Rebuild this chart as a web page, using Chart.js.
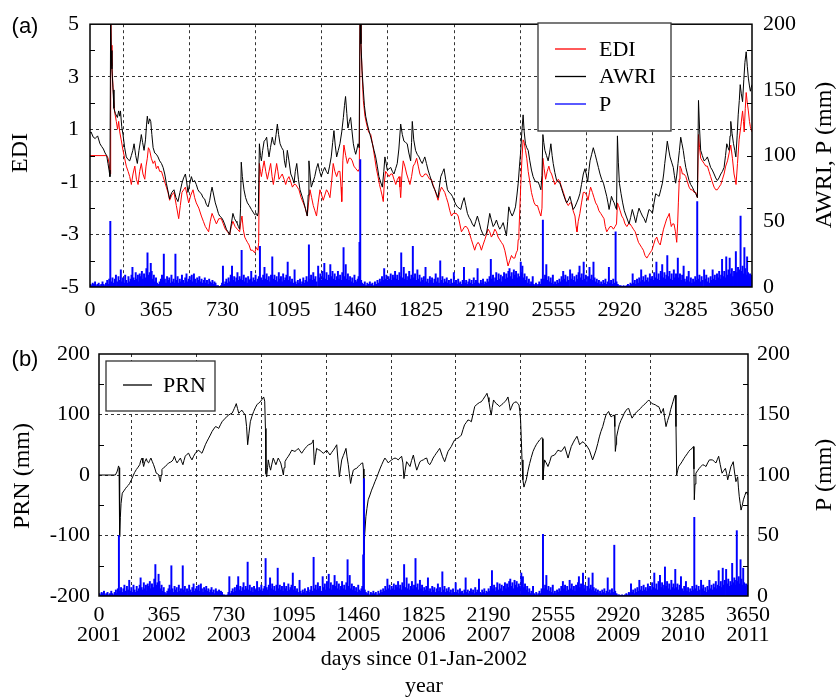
<!DOCTYPE html>
<html>
<head>
<meta charset="utf-8">
<script src="https://cdn.jsdelivr.net/npm/chart.js@4.4.0/dist/chart.umd.min.js"></script>
<style>
body { margin: 0; background: #fff; }
#wrap { position: relative; width: 836px; height: 697px; }
canvas { position: absolute; left: 0; }
#chartA { top: 0; }
#chartB { top: 330px; }
</style>
</head>
<body>
<div id="wrap">
  <canvas id="chartA" width="836" height="330"></canvas>
  <canvas id="chartB" width="836" height="367"></canvas>
</div>
<script>
// tick positions and labels
var dayTicks = [0, 365, 730, 1095, 1460, 1825, 2190, 2555, 2920, 3285, 3650]
var yearLabels = ['2001', '2002', '2003', '2004', '2005', '2006', '2007', '2008', '2009', '2010', '2011']
var ediTicks = [-5, -3, -1, 1, 3, 5]
var ediMinorTicks = [-4, -2, 0, 2, 4]
var awriTicks = [0, 50, 100, 150, 200]
var prnTicks = [-200, -100, 0, 100, 200]
var prnMinorTicks = [-150, -50, 50, 150]
var precipTicks = [0, 50, 100, 150, 200]

// [day, EDI]
var ediData = [[0,0],[92,0],[100,-0.1],[107,-0.4],[111,-0.7],[114,6],[117,4.2],[121,3.4],[127,2.6],[135,1.7],[145,1.3],[152,1.0],[158,1.3],[164,0.9],[172,0.6],[182,0.2],[191,-0.1],[200,-0.4],[210,-0.6],[219,-0.8],[228,-1.1],[237,-0.7],[247,-0.4],[256,-0.9],[265,-1.1],[274,-0.6],[283,-0.3],[292,-0.7],[302,-0.9],[309,-0.4],[316,-0.1],[322,0.3],[329,0.2],[338,-0.1],[348,-0.3],[357,-0.2],[366,-0.5],[375,-0.4],[384,-0.6],[394,-0.6],[403,-0.8],[412,-1.0],[421,-1.2],[430,-1.4],[439,-1.7],[451,-1.5],[463,-1.4],[476,-1.9],[489,-2.4],[498,-1.9],[507,-1.4],[516,-1.3],[526,-1.2],[535,-1.5],[544,-1.8],[556,-1.5],[568,-1.3],[577,-1.6],[586,-1.8],[600,-2.0],[614,-2.3],[625,-2.5],[636,-2.7],[645,-2.8],[654,-2.9],[663,-2.5],[673,-2.2],[685,-2.4],[697,-2.6],[710,-2.4],[724,-2.4],[735,-2.6],[746,-2.8],[758,-2.9],[770,-3.0],[779,-2.7],[788,-2.5],[800,-2.7],[812,-2.8],[825,-2.9],[830,-2.6],[838,-2.3],[845,-2.8],[853,-3.1],[860,-3.2],[868,-3.3],[877,-3.4],[886,-3.6],[897,-3.6],[908,-3.7],[917,-3.5],[926,-3.6],[930,-3.3],[934,-0.3],[940,-0.6],[945,-0.8],[952,-0.5],[960,-0.2],[969,-0.6],[978,-0.9],[987,-0.6],[996,-0.3],[1004,-0.8],[1011,-1.1],[1020,-0.7],[1029,-0.3],[1036,-0.6],[1042,-0.9],[1051,-0.8],[1060,-0.7],[1070,-0.9],[1079,-1.1],[1088,-0.9],[1097,-0.8],[1107,-1.0],[1116,-1.2],[1125,-1.1],[1134,-1.1],[1143,-1.2],[1152,-1.3],[1164,-1.6],[1176,-1.8],[1187,-2.0],[1198,-2.3],[1205,-1.8],[1213,-1.3],[1222,-1.6],[1231,-1.9],[1240,-2.1],[1249,-2.3],[1258,-1.8],[1268,-1.3],[1277,-1.5],[1286,-1.7],[1295,-1.5],[1304,-1.3],[1313,-1.4],[1323,-1.6],[1332,-1.0],[1341,-0.3],[1350,-0.6],[1360,-0.8],[1369,-0.6],[1378,-0.6],[1384,-1.2],[1388,-1.75],[1394,-0.2],[1400,0.4],[1410,0.0],[1419,-0.3],[1428,-0.1],[1437,-0.1],[1446,-0.2],[1455,-0.4],[1466,-0.5],[1478,-0.6],[1485,-0.5],[1489,6],[1494,4.3],[1500,3.2],[1507,2.1],[1516,1.5],[1525,1.2],[1536,0.9],[1548,0.8],[1559,0.4],[1570,-0.1],[1579,-0.5],[1588,-0.8],[1596,-1.1],[1603,-1.3],[1610,-1.5],[1617,-1.75],[1623,-1.0],[1630,-0.6],[1640,-0.7],[1649,-0.8],[1658,-0.7],[1667,-0.7],[1676,-0.9],[1686,-1.1],[1695,-0.9],[1704,-0.8],[1709,-1.2],[1713,-1.6],[1720,-0.7],[1727,-0.2],[1736,-0.4],[1746,-0.7],[1755,-0.9],[1764,-1.1],[1773,-0.8],[1782,-0.4],[1791,-0.3],[1801,-0.1],[1810,-0.4],[1819,-0.7],[1827,-0.8],[1836,-0.8],[1846,-0.7],[1855,-0.7],[1864,-0.8],[1873,-0.9],[1882,-0.9],[1891,-1.1],[1901,-1.3],[1910,-1.5],[1919,-1.7],[1928,-1.4],[1938,-1.2],[1947,-1.3],[1956,-1.4],[1965,-1.6],[1974,-1.8],[1984,-2.1],[1993,-2.3],[2002,-2.2],[2011,-2.2],[2020,-2.2],[2030,-2.3],[2039,-2.6],[2048,-2.9],[2057,-2.8],[2066,-2.7],[2075,-2.7],[2085,-2.8],[2094,-3.0],[2103,-3.2],[2112,-3.4],[2121,-3.6],[2130,-3.4],[2140,-3.3],[2149,-3.4],[2158,-3.6],[2167,-3.4],[2177,-3.2],[2186,-3.0],[2195,-2.8],[2204,-2.9],[2213,-3.1],[2222,-3.0],[2232,-2.8],[2241,-2.9],[2250,-3.1],[2259,-3.2],[2268,-3.3],[2278,-3.4],[2287,-3.6],[2296,-3.9],[2305,-4.2],[2314,-4.0],[2324,-3.8],[2333,-3.9],[2342,-3.9],[2350,-3.7],[2357,-3.6],[2361,-3.2],[2365,-2.9],[2370,-2.0],[2375,-1.1],[2381,-0.2],[2388,0.6],[2394,0.5],[2401,0.2],[2408,-0.1],[2416,-0.6],[2425,-1.0],[2434,-1.4],[2441,-1.6],[2449,-1.8],[2458,-1.9],[2467,-1.9],[2476,-2.1],[2486,-2.3],[2492,-2.0],[2497,-0.1],[2504,-0.5],[2512,-0.9],[2521,-0.6],[2530,-0.4],[2537,-0.6],[2545,-0.7],[2554,-0.9],[2563,-1.1],[2572,-1.0],[2582,-0.9],[2591,-1.0],[2600,-1.2],[2610,-1.4],[2619,-1.6],[2628,-1.8],[2637,-1.9],[2646,-1.8],[2655,-1.8],[2664,-2.1],[2674,-2.3],[2680,-2.7],[2685,-2.9],[2692,-2.5],[2701,-2.2],[2710,-1.8],[2720,-1.4],[2729,-1.4],[2738,-1.5],[2746,-1.7],[2754,-1.4],[2760,-1.2],[2770,-1.4],[2779,-1.6],[2788,-1.8],[2797,-1.9],[2806,-2.1],[2816,-2.2],[2825,-2.3],[2834,-2.4],[2841,-2.7],[2849,-2.9],[2858,-2.8],[2867,-2.7],[2876,-2.7],[2886,-2.8],[2895,-2.7],[2903,-2.6],[2908,-1.8],[2914,-1.9],[2923,-2.1],[2932,-2.3],[2941,-2.4],[2950,-2.6],[2960,-2.7],[2969,-2.6],[2978,-2.6],[2987,-2.7],[2996,-2.8],[3006,-2.9],[3015,-3.1],[3024,-3.3],[3033,-3.4],[3042,-3.5],[3051,-3.6],[3060,-3.8],[3070,-3.9],[3079,-3.8],[3088,-3.7],[3098,-3.6],[3107,-3.4],[3116,-3.2],[3125,-3.1],[3134,-3.3],[3144,-3.4],[3153,-3.1],[3162,-2.8],[3171,-2.6],[3180,-2.4],[3188,-2.3],[3194,-2.2],[3200,-2.5],[3205,-2.7],[3212,-2.6],[3220,-2.6],[3228,-2.9],[3235,-3.3],[3240,-2.6],[3244,-1.8],[3249,-0.9],[3253,-0.4],[3260,-0.5],[3266,-0.7],[3275,-0.7],[3285,-0.8],[3294,-1.0],[3303,-1.2],[3312,-1.3],[3321,-1.3],[3331,-1.4],[3340,-1.4],[3349,-1.6],[3355,0.8],[3361,0.3],[3367,-0.1],[3376,-0.2],[3386,-0.3],[3395,-0.4],[3404,-0.4],[3413,-0.6],[3422,-0.8],[3431,-1.0],[3441,-1.2],[3450,-1.3],[3459,-1.3],[3468,-1.2],[3478,-1.1],[3487,-0.9],[3496,-0.7],[3505,-0.4],[3515,-0.2],[3524,0.1],[3533,0.4],[3542,-0.1],[3551,-0.7],[3557,-0.9],[3562,-1.1],[3570,-0.3],[3579,0.6],[3588,1.1],[3598,1.7],[3603,1.3],[3607,0.9],[3613,1.8],[3618,2.4],[3624,2.0],[3630,1.7],[3636,1.3],[3641,1.1],[3650,0.9]]

// [day, AWRI mm]
var awriData = [[0,117],[6,118],[18,114],[29,113],[35,114],[42,115],[55,109],[64,107],[74,105],[83,102],[92,100],[99,94],[105,89],[110,84],[114,210],[117,180],[121,166],[127,150],[132,136],[140,132],[151,129],[158,134],[164,130],[168,134],[175,122],[182,116],[191,106],[200,99],[210,97],[219,96],[228,100],[236,104],[243,109],[252,100],[261,94],[270,104],[279,112],[283,116],[290,110],[298,104],[306,112],[312,124],[316,130],[322,124],[329,128],[335,126],[341,116],[348,106],[357,102],[366,101],[375,99],[384,96],[394,94],[403,91],[412,86],[421,79],[430,73],[439,67],[445,70],[451,72],[463,74],[474,68],[485,65],[496,72],[507,79],[516,83],[526,86],[533,80],[540,72],[549,78],[559,84],[568,80],[577,81],[586,78],[595,74],[605,72],[614,71],[623,68],[632,67],[641,63],[651,61],[660,66],[667,72],[673,76],[682,70],[691,64],[700,60],[708,56],[715,54],[724,53],[733,51],[742,48],[752,44],[761,42],[770,40],[779,48],[788,56],[797,52],[805,50],[810,49],[818,46],[825,44],[830,60],[834,95],[840,84],[849,74],[858,68],[868,64],[878,62],[890,59],[899,57],[908,55],[917,56],[923,54],[928,57],[934,109],[940,100],[945,96],[952,104],[960,111],[967,112],[974,114],[980,106],[987,99],[995,106],[1005,114],[1011,110],[1018,108],[1026,116],[1033,124],[1040,116],[1048,109],[1057,106],[1066,104],[1072,96],[1079,91],[1084,98],[1088,104],[1097,96],[1107,86],[1116,83],[1125,79],[1132,88],[1140,94],[1149,82],[1158,74],[1167,70],[1176,66],[1187,60],[1198,54],[1203,70],[1207,96],[1213,86],[1220,76],[1230,80],[1239,84],[1248,90],[1257,94],[1266,88],[1275,84],[1284,88],[1294,91],[1303,88],[1312,86],[1321,92],[1330,99],[1338,110],[1345,119],[1352,108],[1360,99],[1369,104],[1378,109],[1388,118],[1397,129],[1403,138],[1409,145],[1416,132],[1422,121],[1430,126],[1437,129],[1445,118],[1452,109],[1459,104],[1465,101],[1472,105],[1478,109],[1484,106],[1489,215],[1494,185],[1500,165],[1507,150],[1513,138],[1520,130],[1529,124],[1538,119],[1548,114],[1557,109],[1566,104],[1575,99],[1584,92],[1593,84],[1602,80],[1612,76],[1620,88],[1626,99],[1633,94],[1639,89],[1649,90],[1658,91],[1667,88],[1676,86],[1685,90],[1694,94],[1703,105],[1713,124],[1722,116],[1731,111],[1740,110],[1749,109],[1758,102],[1768,96],[1773,110],[1777,126],[1785,112],[1795,104],[1804,101],[1814,99],[1823,96],[1832,94],[1840,97],[1846,99],[1855,94],[1864,89],[1873,85],[1882,81],[1891,77],[1901,74],[1910,71],[1919,68],[1926,76],[1934,84],[1943,87],[1952,90],[1961,82],[1971,74],[1980,72],[1989,71],[1998,69],[2007,66],[2016,63],[2026,61],[2035,60],[2044,59],[2053,64],[2063,68],[2072,62],[2081,56],[2090,53],[2099,51],[2108,48],[2118,46],[2127,50],[2136,54],[2146,49],[2155,44],[2164,41],[2173,39],[2180,40],[2186,41],[2195,48],[2204,56],[2213,51],[2223,46],[2232,48],[2241,51],[2250,47],[2259,44],[2268,46],[2278,49],[2287,44],[2296,39],[2303,50],[2309,61],[2318,57],[2328,54],[2337,57],[2346,61],[2354,70],[2361,79],[2368,92],[2375,104],[2381,118],[2388,131],[2394,118],[2401,109],[2408,106],[2416,104],[2425,96],[2434,89],[2443,84],[2452,81],[2461,80],[2471,80],[2479,77],[2486,74],[2492,85],[2497,116],[2502,110],[2508,104],[2517,100],[2526,96],[2534,102],[2541,109],[2548,100],[2554,94],[2563,87],[2573,81],[2582,80],[2591,79],[2600,75],[2609,71],[2619,67],[2628,64],[2637,66],[2646,69],[2655,64],[2664,59],[2674,61],[2683,64],[2692,67],[2701,71],[2710,78],[2720,86],[2729,90],[2736,86],[2744,80],[2750,88],[2757,96],[2766,101],[2775,106],[2785,101],[2794,96],[2803,91],[2812,86],[2821,82],[2831,79],[2840,74],[2849,69],[2856,64],[2862,59],[2869,64],[2875,69],[2883,66],[2890,64],[2897,61],[2903,59],[2908,115],[2913,95],[2919,79],[2928,71],[2937,64],[2946,58],[2956,54],[2964,51],[2972,48],[2981,53],[2990,59],[3000,54],[3009,49],[3018,55],[3027,60],[3036,57],[3046,54],[3055,52],[3064,49],[3073,54],[3082,59],[3092,58],[3101,56],[3110,64],[3119,71],[3128,70],[3138,69],[3147,74],[3156,79],[3163,86],[3169,94],[3176,102],[3183,111],[3190,105],[3198,99],[3207,95],[3216,91],[3222,85],[3229,79],[3236,86],[3242,94],[3250,104],[3257,114],[3264,109],[3271,104],[3278,97],[3285,91],[3294,86],[3303,81],[3312,78],[3321,76],[3331,73],[3340,71],[3349,68],[3355,142],[3361,120],[3367,104],[3376,100],[3386,96],[3395,97],[3404,99],[3413,95],[3422,91],[3431,89],[3441,86],[3450,83],[3459,81],[3468,83],[3478,86],[3487,88],[3496,91],[3504,100],[3511,109],[3518,106],[3524,104],[3529,115],[3533,126],[3540,117],[3548,109],[3555,104],[3561,99],[3568,115],[3574,131],[3580,142],[3585,154],[3591,147],[3598,141],[3605,158],[3611,171],[3618,179],[3624,168],[3630,159],[3636,153],[3641,149],[3646,152],[3650,154]]

// [day, PRN mm]
var prnData = [[0,0],[92,0],[101,5],[106,10],[110,15],[113,12],[116,-102],[120,-70],[124,-47],[131,-30],[143,-25],[150,-22],[158,-19],[165,-17],[172,-14],[182,-8],[191,-2],[200,4],[210,9],[220,13],[229,17],[235,24],[242,28],[247,20],[251,14],[258,22],[266,27],[272,22],[279,20],[285,24],[292,28],[300,22],[307,17],[315,10],[322,3],[330,2],[336,0],[340,-6],[345,-11],[350,0],[354,9],[363,12],[373,14],[382,17],[392,20],[401,21],[411,23],[418,26],[424,31],[432,24],[439,20],[448,24],[458,28],[465,22],[472,17],[478,24],[485,31],[494,34],[504,36],[513,30],[523,25],[532,31],[542,36],[551,39],[561,41],[570,38],[579,36],[589,43],[598,50],[608,56],[617,61],[626,66],[636,72],[645,76],[655,80],[664,79],[673,77],[683,83],[692,88],[701,91],[711,94],[720,97],[729,99],[739,101],[748,102],[755,106],[761,110],[767,114],[772,118],[779,110],[786,102],[795,105],[804,107],[813,103],[823,99],[830,80],[836,50],[843,68],[851,88],[860,97],[870,105],[879,111],[888,116],[898,119],[907,121],[917,125],[926,129],[932,122],[936,77],[939,2],[943,-3],[948,12],[952,25],[958,16],[965,8],[972,18],[980,28],[988,22],[995,17],[1001,22],[1008,28],[1015,24],[1022,20],[1030,10],[1037,0],[1041,12],[1046,22],[1055,27],[1065,31],[1075,36],[1084,41],[1093,40],[1102,39],[1111,41],[1121,44],[1130,40],[1140,36],[1149,40],[1159,44],[1168,47],[1178,50],[1187,51],[1196,52],[1201,55],[1205,58],[1211,17],[1217,30],[1224,44],[1233,42],[1243,41],[1252,38],[1262,36],[1271,38],[1280,41],[1290,37],[1299,33],[1308,37],[1318,41],[1327,45],[1337,50],[1344,25],[1352,-3],[1358,10],[1365,25],[1374,32],[1382,38],[1389,44],[1395,30],[1402,17],[1408,2],[1415,-14],[1422,-3],[1430,8],[1440,10],[1449,11],[1458,14],[1468,17],[1475,19],[1483,20],[1487,10],[1490,-132],[1494,-100],[1501,-69],[1507,-55],[1514,-41],[1524,-33],[1533,-25],[1543,-18],[1552,-11],[1562,-4],[1571,3],[1580,10],[1590,17],[1599,23],[1608,28],[1618,24],[1627,20],[1637,23],[1646,25],[1656,27],[1665,28],[1674,27],[1683,25],[1692,28],[1702,31],[1709,20],[1715,-6],[1722,8],[1730,22],[1740,18],[1749,14],[1758,24],[1768,33],[1777,20],[1787,8],[1796,15],[1805,22],[1815,24],[1824,25],[1833,27],[1843,28],[1851,20],[1860,17],[1870,22],[1879,28],[1888,32],[1897,36],[1907,40],[1916,44],[1923,38],[1931,31],[1938,26],[1944,22],[1954,31],[1963,39],[1972,43],[1981,47],[1991,53],[2000,58],[2010,60],[2019,61],[2028,63],[2038,66],[2047,75],[2056,83],[2066,87],[2075,91],[2085,90],[2094,88],[2103,100],[2113,113],[2122,116],[2131,118],[2141,120],[2150,121],[2160,125],[2169,129],[2176,132],[2182,135],[2188,128],[2193,121],[2200,108],[2206,99],[2212,112],[2219,124],[2226,121],[2234,118],[2244,116],[2253,113],[2263,116],[2272,118],[2282,121],[2291,124],[2300,129],[2307,118],[2313,107],[2320,112],[2328,118],[2337,120],[2347,121],[2355,118],[2362,116],[2367,105],[2371,91],[2375,60],[2379,25],[2384,-8],[2390,-20],[2396,-14],[2403,-8],[2412,6],[2422,19],[2431,29],[2441,39],[2450,45],[2459,50],[2468,54],[2478,58],[2485,60],[2491,62],[2494,60],[2497,-8],[2501,10],[2506,25],[2515,20],[2525,14],[2535,22],[2544,31],[2553,32],[2562,33],[2572,37],[2581,41],[2590,40],[2600,39],[2610,43],[2619,47],[2628,38],[2638,28],[2647,38],[2656,47],[2666,53],[2675,58],[2682,61],[2688,64],[2696,57],[2703,50],[2712,53],[2722,55],[2731,52],[2739,50],[2748,46],[2758,41],[2767,33],[2776,25],[2786,33],[2795,41],[2805,52],[2814,63],[2823,72],[2833,80],[2842,90],[2851,99],[2858,102],[2866,105],[2873,100],[2880,96],[2889,98],[2898,99],[2901,80],[2904,39],[2908,50],[2911,63],[2918,73],[2926,83],[2935,90],[2945,96],[2954,102],[2964,107],[2971,109],[2979,110],[2988,102],[2998,94],[3007,98],[3017,102],[3026,105],[3035,107],[3045,110],[3054,113],[3064,116],[3073,118],[3082,121],[3092,124],[3101,121],[3110,118],[3120,117],[3129,116],[3138,114],[3148,113],[3155,108],[3161,102],[3168,106],[3174,110],[3181,95],[3189,80],[3198,90],[3208,99],[3215,108],[3223,116],[3229,122],[3236,129],[3241,132],[3245,80],[3249,0],[3254,7],[3260,14],[3270,18],[3279,22],[3289,27],[3298,31],[3308,35],[3317,39],[3326,42],[3336,44],[3343,47],[3346,10],[3348,-41],[3352,-15],[3357,3],[3366,7],[3376,11],[3385,14],[3395,17],[3404,16],[3414,14],[3423,20],[3433,25],[3442,25],[3451,25],[3461,22],[3470,20],[3478,26],[3485,31],[3494,17],[3504,3],[3513,7],[3523,11],[3530,2],[3536,-8],[3545,3],[3554,14],[3561,18],[3567,22],[3574,5],[3582,-11],[3587,-7],[3592,-3],[3596,-20],[3601,-36],[3606,-47],[3611,-58],[3618,-50],[3624,-41],[3632,-34],[3639,-28],[3644,-30],[3650,-33]]

// [day, P mm]
var precipData = [[3,2],[9,1],[15,3],[22,2],[28,4],[35,1],[41,2],[48,3],[55,1],[62,2],[69,4],[75,2],[82,1],[88,3],[95,5],[101,2],[106,6],[112,50],[118,4],[124,7],[130,3],[137,6],[143,9],[150,4],[157,8],[164,5],[170,13],[176,4],[182,7],[188,3],[194,9],[200,5],[206,3],[212,8],[218,4],[224,6],[229,9],[234,15],[240,7],[246,5],[252,11],[258,6],[264,9],[270,4],[274,10],[280,8],[286,12],[292,6],[298,10],[304,7],[311,14],[317,26],[323,9],[329,11],[335,18],[340,12],[346,6],[352,9],[358,4],[364,7],[370,3],[377,2],[384,4],[391,6],[397,9],[401,5],[407,25],[413,6],[419,3],[425,8],[431,5],[437,7],[443,3],[449,9],[455,4],[461,6],[466,3],[471,25],[477,5],[483,8],[489,3],[495,6],[501,4],[507,9],[513,5],[519,3],[525,7],[532,10],[538,4],[544,6],[550,8],[556,5],[561,9],[567,4],[573,10],[579,6],[585,3],[591,7],[597,5],[603,8],[609,4],[615,6],[621,3],[627,5],[633,7],[639,3],[645,5],[651,2],[657,6],[663,4],[669,3],[675,5],[681,2],[686,4],[692,3],[698,1],[706,1],[714,0.5],[722,1],[728,3],[733,16],[740,2],[746,4],[752,6],[758,3],[764,7],[770,4],[776,9],[783,16],[789,5],[795,8],[801,4],[807,7],[813,11],[819,5],[825,8],[831,6],[836,28],[842,5],[848,9],[854,4],[860,7],[866,3],[872,8],[878,5],[884,6],[889,12],[895,4],[901,7],[907,5],[913,9],[919,4],[925,6],[931,8],[937,31],[943,7],[949,5],[955,9],[962,15],[968,6],[974,10],[980,5],[986,8],[992,4],[998,9],[1005,23],[1011,6],[1017,9],[1023,5],[1029,8],[1035,4],[1041,11],[1047,6],[1053,8],[1059,4],[1065,10],[1071,5],[1077,7],[1083,9],[1090,19],[1096,5],[1102,8],[1108,4],[1114,6],[1120,3],[1128,13],[1134,4],[1140,2],[1146,5],[1152,3],[1158,6],[1164,2],[1170,4],[1176,7],[1182,3],[1188,5],[1194,8],[1200,4],[1207,32],[1213,6],[1219,9],[1225,5],[1231,11],[1237,6],[1243,8],[1249,4],[1258,16],[1264,7],[1270,10],[1276,5],[1282,12],[1287,7],[1292,18],[1298,6],[1304,11],[1310,5],[1316,9],[1320,7],[1325,17],[1331,8],[1337,12],[1343,6],[1349,10],[1355,5],[1361,8],[1367,12],[1373,6],[1379,9],[1385,5],[1391,11],[1398,30],[1404,8],[1410,17],[1416,6],[1422,10],[1428,5],[1434,8],[1440,4],[1446,7],[1452,3],[1458,9],[1464,5],[1470,4],[1476,6],[1481,8],[1486,34],[1490,97],[1495,5],[1501,3],[1508,2],[1515,4],[1522,1],[1529,3],[1536,2],[1543,4],[1550,2],[1557,3],[1564,1],[1571,4],[1578,2],[1585,5],[1592,3],[1598,6],[1604,4],[1610,8],[1616,5],[1622,14],[1628,6],[1634,9],[1640,5],[1646,8],[1652,6],[1658,10],[1664,5],[1670,9],[1676,7],[1682,12],[1688,6],[1694,9],[1700,5],[1706,11],[1711,8],[1716,26],[1722,7],[1730,15],[1736,6],[1742,10],[1748,5],[1754,8],[1760,12],[1766,6],[1772,9],[1780,31],[1786,7],[1792,10],[1798,5],[1805,13],[1811,6],[1817,9],[1823,4],[1829,7],[1835,5],[1841,8],[1846,3],[1850,15],[1856,4],[1862,6],[1868,3],[1874,8],[1880,5],[1886,7],[1892,3],[1899,6],[1906,10],[1912,4],[1918,7],[1924,3],[1931,20],[1937,5],[1943,8],[1949,3],[1955,6],[1961,4],[1967,7],[1973,3],[1979,5],[1985,2],[1991,6],[1997,3],[2006,11],[2012,3],[2018,5],[2024,2],[2030,6],[2036,3],[2042,4],[2048,2],[2055,5],[2062,15],[2068,3],[2074,5],[2080,2],[2086,4],[2092,6],[2098,3],[2104,5],[2110,2],[2116,7],[2122,3],[2128,5],[2134,4],[2137,14],[2143,3],[2149,2],[2155,5],[2161,3],[2167,6],[2173,2],[2179,4],[2185,3],[2191,6],[2197,4],[2203,8],[2210,21],[2216,6],[2222,9],[2228,4],[2234,7],[2240,11],[2246,5],[2253,10],[2259,6],[2265,9],[2271,4],[2277,8],[2283,11],[2289,6],[2295,10],[2301,7],[2307,12],[2313,14],[2319,8],[2325,11],[2331,6],[2337,13],[2343,9],[2349,12],[2355,7],[2361,10],[2367,8],[2375,19],[2379,11],[2384,16],[2390,7],[2396,10],[2402,5],[2408,8],[2414,3],[2420,6],[2426,2],[2432,4],[2438,1],[2441,8],[2447,2],[2453,1],[2459,3],[2465,1],[2471,2],[2477,4],[2483,2],[2489,6],[2494,3],[2497,51],[2503,6],[2509,9],[2516,17],[2522,5],[2528,8],[2534,4],[2540,7],[2546,3],[2552,9],[2558,2],[2564,4],[2570,2],[2576,5],[2582,3],[2588,6],[2594,4],[2600,8],[2605,5],[2609,12],[2615,6],[2621,9],[2627,4],[2633,8],[2639,5],[2647,13],[2653,6],[2659,10],[2665,5],[2671,8],[2677,4],[2683,9],[2689,6],[2694,11],[2699,16],[2705,7],[2711,10],[2717,5],[2722,19],[2728,6],[2734,9],[2740,4],[2746,8],[2754,15],[2760,6],[2766,9],[2771,5],[2776,19],[2782,7],[2788,4],[2794,6],[2800,3],[2806,5],[2812,2],[2818,4],[2824,2],[2830,5],[2836,3],[2842,6],[2848,2],[2854,4],[2861,15],[2867,3],[2873,5],[2879,2],[2885,6],[2891,3],[2898,42],[2903,4],[2910,2],[2918,1],[2926,1],[2934,0.5],[2942,1],[2950,0.5],[2958,1],[2966,2],[2974,1],[2980,3],[2986,2],[2992,10],[2998,3],[3004,5],[3010,2],[3016,6],[3022,3],[3028,7],[3034,4],[3039,13],[3045,5],[3051,8],[3057,4],[3063,9],[3069,5],[3075,7],[3081,4],[3087,10],[3093,6],[3099,8],[3105,5],[3111,11],[3117,7],[3123,19],[3129,6],[3135,10],[3141,5],[3147,12],[3150,8],[3155,17],[3161,7],[3167,11],[3173,6],[3178,9],[3183,24],[3189,8],[3195,12],[3201,6],[3207,10],[3213,5],[3219,13],[3225,7],[3231,10],[3236,6],[3241,22],[3247,7],[3253,10],[3259,5],[3265,9],[3273,16],[3279,6],[3285,4],[3291,8],[3297,5],[3301,12],[3307,4],[3313,7],[3319,3],[3325,6],[3331,4],[3337,8],[3343,5],[3348,65],[3354,6],[3360,9],[3366,4],[3372,8],[3378,5],[3386,13],[3392,6],[3398,9],[3404,4],[3410,7],[3416,3],[3422,8],[3428,5],[3433,13],[3439,6],[3445,9],[3451,5],[3457,10],[3463,7],[3469,12],[3475,6],[3480,9],[3485,21],[3491,8],[3497,12],[3502,7],[3508,23],[3514,9],[3520,13],[3527,22],[3533,10],[3539,14],[3545,8],[3551,12],[3556,9],[3561,27],[3567,11],[3573,15],[3579,9],[3583,13],[3587,54],[3593,12],[3598,16],[3603,10],[3608,30],[3613,14],[3618,9],[3623,23],[3628,11],[3633,8],[3639,10],[3644,7],[3649,9]]

var serif = 'Liberation Serif'
Chart.defaults.font.family = serif
Chart.defaults.font.size = 22
Chart.defaults.color = '#000'

function tickFont(lh) {
    return { family: serif, size: 22, lineHeight: lh || 1.2 }
}

function toXY(pairs) {
    return pairs.map(function (p) { return { x: p[0], y: p[1] } })
}

function setTicks(list) {
    return function (scale) {
        scale.ticks = list.map(function (v) { return { value: v } })
    }
}

function edgeHidden(lo, hi) {
    return function (c) {
        if (c.tick && (c.tick.value === lo || c.tick.value === hi)) return 'rgba(0,0,0,0)'
        return '#333'
    }
}

// frame, minor ticks, legend box and free texts
var framePlugin = {
    id: 'frame',
    afterDraw: function (chart, args, opts) {
        var ctx = chart.ctx
        var a = chart.chartArea
        ctx.save()
        ctx.strokeStyle = '#000'
        ctx.lineWidth = 1.5
        ctx.strokeRect(a.left, a.top, a.right - a.left, a.bottom - a.top)

        ctx.lineWidth = 1
        opts.minor.forEach(function (v) {
            var py = Math.round(chart.scales.y.getPixelForValue(v)) + 0.5
            ctx.beginPath()
            ctx.moveTo(a.left, py)
            ctx.lineTo(a.left + 5, py)
            ctx.moveTo(a.right, py)
            ctx.lineTo(a.right - 5, py)
            ctx.stroke()
        })

        var lg = opts.legend
        ctx.fillStyle = '#fff'
        ctx.fillRect(lg.x, lg.y, lg.w, lg.h)
        ctx.strokeStyle = '#333'
        ctx.lineWidth = 1.3
        ctx.strokeRect(lg.x, lg.y, lg.w, lg.h)
        ctx.font = '22px "' + serif + '"'
        ctx.textAlign = 'left'
        ctx.textBaseline = 'middle'
        var shown = chart.data.datasets.filter(function (ds) { return !ds.hideInLegend })
        shown.forEach(function (ds, i) {
            var y = lg.y + lg.first + i * lg.step
            ctx.strokeStyle = ds.borderColor || ds.backgroundColor
            ctx.lineWidth = 1.3
            ctx.beginPath()
            ctx.moveTo(lg.x + 17, y)
            ctx.lineTo(lg.x + lg.lineEnd, y)
            ctx.stroke()
            ctx.fillStyle = '#000'
            ctx.fillText(ds.label, lg.x + lg.textX, y + 1)
        })

        opts.texts.forEach(function (t) {
            ctx.save()
            ctx.translate(t.x, t.y)
            ctx.rotate(t.rot || 0)
            ctx.font = t.font
            ctx.fillStyle = '#000'
            ctx.textAlign = 'center'
            ctx.textBaseline = t.base || 'middle'
            ctx.fillText(t.text, 0, 0)
            ctx.restore()
        })
        ctx.restore()
    }
}

function baseOptions() {
    return {
        responsive: false,
        animation: false,
        devicePixelRatio: 1,
        events: [],
        elements: { point: { radius: 0 }, line: { tension: 0 } },
        plugins: { legend: { display: false }, tooltip: { enabled: false } }
    }
}

var titleFont = '24px "' + serif + '"'
var labelFont = '22px "' + serif + '"'
var panelFont = '22px "Liberation Sans"'

// panel (a)
var optsA = baseOptions()
optsA.layout = { padding: { top: 20, left: 0, right: 0, bottom: 0 } }
optsA.scales = {
    x: {
        type: 'linear', min: 0, max: 3650, offset: false,
        afterBuildTicks: setTicks(dayTicks),
        afterFit: function (s) { s.height = 43 },
        ticks: { font: tickFont(), color: '#000', padding: 10, maxRotation: 0, autoSkip: false,
            callback: function (v) { return String(v) } },
        grid: { color: edgeHidden(0, 3650), lineWidth: 1, drawTicks: false },
        border: { display: false, dash: [3, 3] }
    },
    y: {
        position: 'left', min: -5, max: 5,
        afterBuildTicks: setTicks(ediTicks),
        afterFit: function (s) { s.width = 90 },
        ticks: { font: tickFont(), color: '#000', padding: 11, callback: function (v) { return String(v) } },
        grid: { color: edgeHidden(-5, 5), lineWidth: 1, drawTicks: false },
        border: { display: false, dash: [3, 3] }
    },
    y2: {
        position: 'right', min: 0, max: 200,
        afterBuildTicks: setTicks(awriTicks),
        afterFit: function (s) { s.width = 84 },
        ticks: { font: tickFont(), color: '#000', padding: 11, callback: function (v) { return String(v) } },
        grid: { display: false, drawTicks: false },
        border: { display: false }
    }
}
optsA.plugins.frame = {
    minor: ediMinorTicks,
    legend: { x: 538, y: 23, w: 133, h: 108, first: 26, step: 27.5, lineEnd: 48, textX: 61 },
    texts: [
        { text: '(a)', x: 25, y: 27, font: panelFont },
        { text: 'EDI', x: 21, y: 153, rot: -Math.PI / 2, font: titleFont },
        { text: 'AWRI, P (mm)', x: 825, y: 155, rot: -Math.PI / 2, font: titleFont }
    ]
}

var chartA = new Chart(document.getElementById('chartA').getContext('2d'), {
    type: 'line',
    data: {
        datasets: [
            { label: 'EDI', data: toXY(ediData), yAxisID: 'y', borderColor: '#ff0000', borderWidth: 1, order: 3 },
            { label: 'AWRI', data: toXY(awriData), yAxisID: 'y2', borderColor: '#000000', borderWidth: 1, order: 2 },
            { label: 'P', type: 'bar', data: toXY(precipData), yAxisID: 'y2', backgroundColor: '#0000ff',
                borderWidth: 0, barThickness: 1.3, order: 1 }
        ]
    },
    options: optsA,
    plugins: [framePlugin]
})

// panel (b)
var optsB = baseOptions()
optsB.layout = { padding: { top: 24, left: 0, right: 0, bottom: 0 } }
optsB.scales = {
    x: {
        type: 'linear', min: 0, max: 3650, offset: false,
        afterBuildTicks: setTicks(dayTicks),
        afterFit: function (s) { s.height = 101 },
        ticks: { font: tickFont('20px'), color: '#000', padding: 9.5,
            maxRotation: 0, autoSkip: false,
            callback: function (v) { return [String(v), yearLabels[dayTicks.indexOf(v)]] } },
        grid: { color: edgeHidden(0, 3650), lineWidth: 1, drawTicks: false },
        border: { display: false, dash: [3, 3] }
    },
    y: {
        position: 'left', min: -200, max: 200,
        afterBuildTicks: setTicks(prnTicks),
        afterFit: function (s) { s.width = 99 },
        ticks: { font: tickFont(), color: '#000', padding: 9, callback: function (v) { return String(v) } },
        grid: { color: edgeHidden(-200, 200), lineWidth: 1, drawTicks: false },
        border: { display: false, dash: [3, 3] }
    },
    y2: {
        position: 'right', min: 0, max: 200,
        afterBuildTicks: setTicks(precipTicks),
        afterFit: function (s) { s.width = 88 },
        ticks: { font: tickFont(), color: '#000', padding: 9, callback: function (v) { return String(v) } },
        grid: { display: false, drawTicks: false },
        border: { display: false }
    }
}
optsB.plugins.frame = {
    minor: prnMinorTicks,
    legend: { x: 106, y: 31, w: 109, h: 50, first: 24, step: 27, lineEnd: 46, textX: 57 },
    texts: [
        { text: '(b)', x: 25, y: 30, font: panelFont },
        { text: 'PRN (mm)', x: 23, y: 146, rot: -Math.PI / 2, font: titleFont },
        { text: 'P (mm)', x: 825, y: 145, rot: -Math.PI / 2, font: titleFont },
        { text: 'days since 01-Jan-2002', x: 424, y: 335, base: 'alphabetic', font: labelFont },
        { text: 'year', x: 424, y: 362, base: 'alphabetic', font: labelFont }
    ]
}

var chartB = new Chart(document.getElementById('chartB').getContext('2d'), {
    type: 'line',
    data: {
        datasets: [
            { label: 'PRN', data: toXY(prnData), yAxisID: 'y', borderColor: '#000000', borderWidth: 1, order: 2 },
            { label: 'P', type: 'bar', data: toXY(precipData), yAxisID: 'y2', backgroundColor: '#0000ff',
                borderWidth: 0, barThickness: 1.3, order: 1, hideInLegend: true }
        ]
    },
    options: optsB,
    plugins: [framePlugin]
})
</script>
</body>
</html>
